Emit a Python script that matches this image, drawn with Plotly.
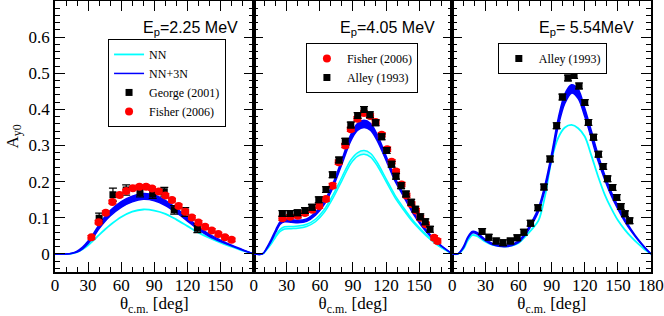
import plotly.graph_objects as go
from plotly.subplots import make_subplots

# ---------------- data ----------------
# Panel 1: Ep = 2.25 MeV
t1 = [0, 10, 15, 20, 25, 30, 35, 40, 45, 50, 60, 70, 80, 90, 100, 110, 120, 130, 140, 150, 160, 170, 180]
nn1 = [0, 0, 0.001, 0.005, 0.013, 0.024, 0.038, 0.053, 0.067, 0.080, 0.102, 0.117, 0.123, 0.120, 0.111, 0.095, 0.077, 0.059, 0.044, 0.031, 0.020, 0.009, 0]
b1_lo = [0, 0, 0.001, 0.005, 0.014, 0.029, 0.048, 0.070, 0.089, 0.105, 0.129, 0.144, 0.151, 0.147, 0.134, 0.114, 0.091, 0.067, 0.048, 0.034, 0.022, 0.010, 0]
b1_hi = [0, 0, 0.002, 0.008, 0.019, 0.036, 0.057, 0.081, 0.102, 0.120, 0.145, 0.160, 0.167, 0.163, 0.148, 0.126, 0.101, 0.075, 0.054, 0.038, 0.024, 0.012, 0]

george_t = [40, 52.5, 64.5, 77, 88.5, 99, 108, 118, 129]
george_a = [0.099, 0.164, 0.177, 0.170, 0.166, 0.172, 0.122, 0.116, 0.071]
george_e = [0.014, 0.018, 0.014, 0.012, 0.012, 0.012, 0.012, 0.012, 0.012]

fisher1_t = [33, 39.5, 46, 52, 58.5, 64.5, 70.5, 76.5, 82.5, 88, 94, 100, 106, 112, 118, 124, 130, 136, 142, 148, 154, 160]
fisher1_a = [0.046, 0.088, 0.114, 0.144, 0.163, 0.174, 0.182, 0.186, 0.186, 0.181, 0.173, 0.162, 0.149, 0.133, 0.117, 0.101, 0.087, 0.075, 0.065, 0.055, 0.046, 0.039]

# Panel 2: Ep = 4.05 MeV
t2 = [0, 8, 12, 16, 20, 24, 28, 34, 40, 48, 56, 64, 72, 80, 88, 94, 100, 106, 112, 120, 128, 136, 144, 152, 160, 168, 180]
b2_lo = [0, 0, 0.015, 0.036, 0.060, 0.082, 0.089, 0.088, 0.086, 0.090, 0.107, 0.137, 0.185, 0.249, 0.313, 0.342, 0.350, 0.342, 0.313, 0.259, 0.202, 0.158, 0.114, 0.078, 0.049, 0.026, 0]
b2_hi = [0, 0, 0.018, 0.041, 0.067, 0.089, 0.096, 0.095, 0.093, 0.097, 0.115, 0.146, 0.196, 0.262, 0.330, 0.361, 0.370, 0.361, 0.330, 0.271, 0.211, 0.165, 0.120, 0.083, 0.053, 0.028, 0]
nn2_lo = [0, 0, 0.012, 0.028, 0.047, 0.062, 0.069, 0.070, 0.071, 0.076, 0.089, 0.115, 0.155, 0.203, 0.250, 0.270, 0.276, 0.268, 0.244, 0.200, 0.156, 0.121, 0.089, 0.063, 0.040, 0.021, 0]
nn2_hi = [0, 0, 0.014, 0.032, 0.052, 0.068, 0.075, 0.076, 0.077, 0.082, 0.096, 0.123, 0.164, 0.213, 0.260, 0.280, 0.286, 0.278, 0.253, 0.208, 0.163, 0.127, 0.094, 0.067, 0.043, 0.023, 0]

fisher2_t = [26, 33, 40, 46.5, 53, 59.4, 65.5, 71.5, 77, 83, 88, 94, 100, 105.5, 110.5, 116, 121, 125, 129, 134, 138.5, 143, 147, 151, 156, 163.5, 166.5]
fisher2_a = [0.099, 0.103, 0.106, 0.113, 0.122, 0.133, 0.152, 0.189, 0.254, 0.300, 0.345, 0.374, 0.390, 0.382, 0.365, 0.330, 0.290, 0.255, 0.228, 0.192, 0.162, 0.138, 0.120, 0.100, 0.082, 0.045, 0.036]

alley2_t = [26, 33, 39.7, 46.5, 52.8, 59, 65.5, 71.5, 77.3, 83, 88, 94.2, 100, 105.3, 110.5, 116, 120.5, 125, 129, 133.6, 138, 142.7, 146.5, 151, 155.5, 159.8]
alley2_a = [0.112, 0.112, 0.114, 0.120, 0.129, 0.150, 0.178, 0.219, 0.260, 0.312, 0.357, 0.383, 0.400, 0.385, 0.363, 0.324, 0.286, 0.248, 0.215, 0.189, 0.166, 0.143, 0.124, 0.103, 0.089, 0.068]

# Panel 3: Ep = 5.54 MeV
t3 = [0, 5, 10, 14, 18, 22, 26, 30, 36, 42, 48, 54, 60, 66, 72, 78, 84, 90, 96, 102, 108, 114, 120, 126, 132, 138, 144, 150, 156, 162, 168, 174, 180]
b3_lo = [0, 0, 0.016, 0.043, 0.058, 0.056, 0.046, 0.036, 0.026, 0.021, 0.020, 0.023, 0.032, 0.052, 0.081, 0.117, 0.178, 0.262, 0.354, 0.417, 0.445, 0.430, 0.380, 0.320, 0.258, 0.206, 0.161, 0.124, 0.091, 0.063, 0.039, 0.018, 0]
b3_hi = [0, 0, 0.020, 0.047, 0.062, 0.060, 0.050, 0.040, 0.030, 0.025, 0.024, 0.027, 0.036, 0.058, 0.089, 0.127, 0.192, 0.278, 0.376, 0.443, 0.468, 0.456, 0.403, 0.340, 0.275, 0.219, 0.172, 0.133, 0.098, 0.068, 0.042, 0.020, 0]
nn3 = [0, 0, 0.014, 0.037, 0.052, 0.050, 0.042, 0.034, 0.026, 0.022, 0.021, 0.023, 0.030, 0.048, 0.068, 0.092, 0.160, 0.262, 0.322, 0.350, 0.357, 0.348, 0.325, 0.272, 0.215, 0.165, 0.126, 0.093, 0.068, 0.047, 0.029, 0.013, 0]

alley3_t = [27, 33, 39.7, 46, 52.7, 58.8, 64.8, 70.9, 77.6, 83, 88.5, 94.5, 99.7, 104.8, 110.3, 114.8, 120, 123.3, 127.9, 132.4, 136.7, 140.6, 145.2, 149, 152.7, 156.4, 160.6]
alley3_a = [0.062, 0.046, 0.036, 0.031, 0.036, 0.045, 0.060, 0.085, 0.128, 0.185, 0.263, 0.355, 0.434, 0.487, 0.494, 0.465, 0.419, 0.364, 0.323, 0.276, 0.242, 0.208, 0.184, 0.156, 0.131, 0.111, 0.092]

x_ticks_12 = [0, 30, 60, 90, 120, 150]
x_ticks_3 = [0, 30, 60, 90, 120, 150, 180]
y_ticks = [0, 0.1, 0.2, 0.3, 0.4, 0.5, 0.6]
y_tick_text = ["0", "0.1", "0.2", "0.3", "0.4", "0.5", "0.6"]
titles = ["E<sub>p</sub>=2.25 MeV", "E<sub>p</sub>=4.05 MeV", "E<sub>p</sub>= 5.54MeV"]

# ---------------- styles ----------------
CYAN = "#00ffff"
BLUE = "#0000ff"
RED = "#ff0000"
SERIF = "Liberation Serif"
SANS = "Liberation Sans"

fig = make_subplots(rows=1, cols=3, horizontal_spacing=0, shared_yaxes=True)

def spline(x, y, color, width, col, name=None, legend=None, showlegend=False, fill=None, fillcolor=None):
    fig.add_trace(go.Scatter(x=x, y=y, mode="lines", name=name,
                             line=dict(color=color, width=width, shape="spline", smoothing=0.9),
                             fill=fill, fillcolor=fillcolor,
                             showlegend=showlegend, legend=legend, hoverinfo="skip"),
                  row=1, col=col)

def points(x, y, err, symbol, color, size, col, name, legend, errcolor):
    ey = dict(type="data", array=err, visible=True, color=errcolor, thickness=1.2, width=4) \
        if isinstance(err, list) else dict(type="constant", value=err, visible=True, color=errcolor, thickness=1.2, width=4)
    fig.add_trace(go.Scatter(x=x, y=y, mode="markers", name=name,
                             marker=dict(symbol=symbol, color=color, size=size, line=dict(width=0)),
                             error_y=ey, showlegend=True, legend=legend),
                  row=1, col=col)

# Panel 1
spline(t1, nn1, CYAN, 1.8, 1, name="NN", legend="legend", showlegend=True)
spline(t1, b1_lo, BLUE, 1.5, 1, name="NN+3N", legend="legend", showlegend=True)
spline(t1, b1_hi, BLUE, 1.5, 1, fill="tonexty", fillcolor=BLUE, legend="legend")
points(george_t, george_a, george_e, "square", "black", 7, 1, "George (2001)", "legend", "black")
points(fisher1_t, fisher1_a, 0.005, "circle", RED, 8, 1, "Fisher (2006)", "legend", RED)

# Panel 2
spline(t2, nn2_lo, CYAN, 1.5, 2, legend="legend2")
spline(t2, nn2_hi, CYAN, 1.5, 2, fill="tonexty", fillcolor="rgba(0,255,255,0.25)", legend="legend2")
spline(t2, b2_lo, BLUE, 1.5, 2, legend="legend2")
spline(t2, b2_hi, BLUE, 1.5, 2, fill="tonexty", fillcolor=BLUE, legend="legend2")
points(fisher2_t, fisher2_a, 0.006, "circle", RED, 8, 2, "Fisher (2006)", "legend2", RED)
points(alley2_t, alley2_a, 0.008, "square", "black", 7, 2, "Alley (1993)", "legend2", "black")

# Panel 3
spline(t3, nn3, CYAN, 1.8, 3, legend="legend3")
spline(t3, b3_lo, BLUE, 1.5, 3, legend="legend3")
spline(t3, b3_hi, BLUE, 1.5, 3, fill="tonexty", fillcolor=BLUE, legend="legend3")
points(alley3_t, alley3_a, 0.008, "square", "black", 7, 3, "Alley (1993)", "legend3", "black")

# ---------------- axes ----------------
axis_common = dict(showline=True, linecolor="black", linewidth=1.5, mirror="allticks",
                   ticks="inside", ticklen=10, tickwidth=1, tickcolor="black",
                   showgrid=False, zeroline=False, automargin=False,
                   tickfont=dict(family=SERIF, size=17, color="black"))

for i in range(1, 4):
    fig.update_xaxes(range=[0, 180], tickmode="array",
                     tickvals=x_ticks_3 if i == 3 else x_ticks_12,
                     ticklabelstandoff=-3,
                     minor=dict(dtick=10, tick0=0, ticks="inside", ticklen=5, tickcolor="black", tickwidth=1),
                     title=dict(text="θ<sub>c.m.</sub> [deg]", font=dict(family=SERIF, size=17, color="black"), standoff=0),
                     row=1, col=i, **axis_common)
    fig.update_yaxes(range=[-0.05, 0.7], tickmode="array", tickvals=y_ticks, ticktext=y_tick_text,
                     minor=dict(dtick=0.02, tick0=0, ticks="inside", ticklen=5, tickcolor="black", tickwidth=1),
                     showticklabels=(i == 1), row=1, col=i, **axis_common)

fig.update_yaxes(title=dict(text="A<sub>y0</sub>", font=dict(family=SERIF, size=17, color="black"), standoff=6),
                 row=1, col=1)

# panel titles
title_x = [0.932, 0.924, 0.926]
for i, (txt, xx) in enumerate(zip(titles, title_x)):
    xref = "x domain" if i == 0 else f"x{i+1} domain"
    fig.add_annotation(text=txt, xref=xref, yref="paper", x=xx, y=0.94,
                       xanchor="right", yanchor="top", showarrow=False,
                       font=dict(family=SANS, size=16, color="black"))

legend_common = dict(bgcolor="white", bordercolor="black", borderwidth=1,
                     font=dict(family=SERIF, size=12, color="black"),
                     xanchor="left", yanchor="top", traceorder="normal", itemwidth=30)

fig.update_layout(
    width=664, height=316,
    margin=dict(l=55, r=13, t=1, b=44),
    plot_bgcolor="white", paper_bgcolor="white",
    legend=dict(x=0.089, y=0.86, **legend_common),
    legend2=dict(x=0.421, y=0.845, **legend_common),
    legend3=dict(x=0.743, y=0.845, **legend_common),
)

fig.write_html("out.html", config={"displayModeBar": False},
               post_script="document.body.style.margin='0';")
